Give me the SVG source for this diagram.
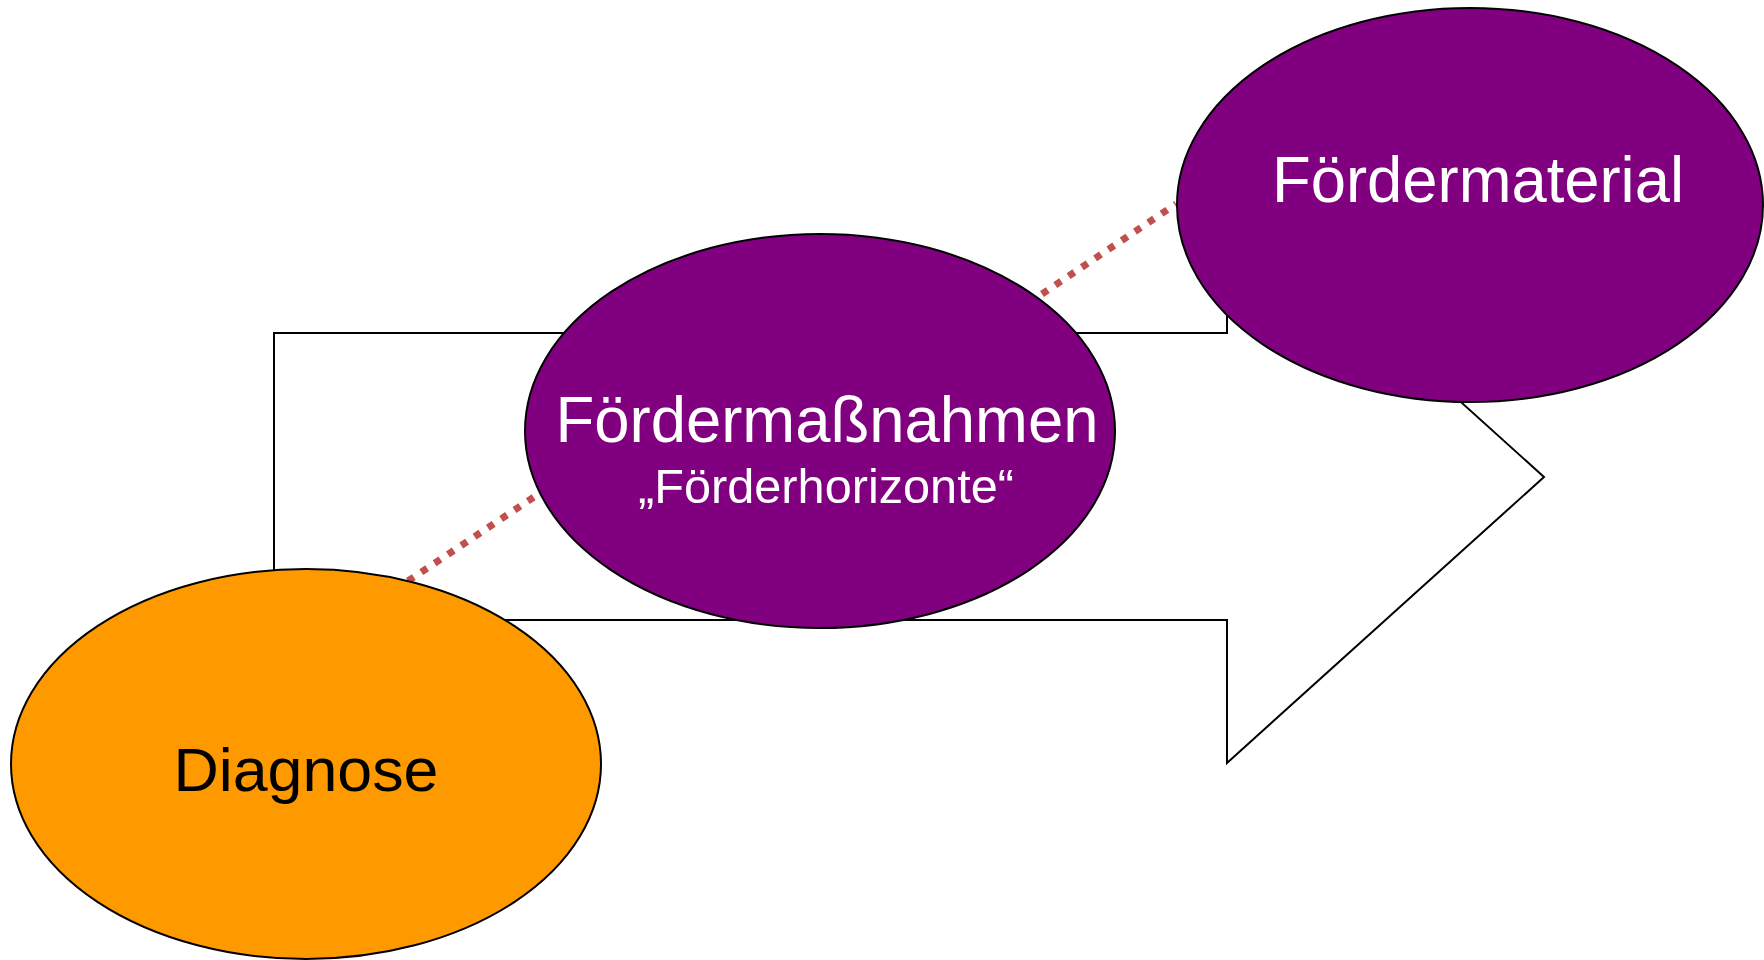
<svg xmlns="http://www.w3.org/2000/svg" width="1764" height="960" viewBox="0 0 1764 960">
  <style>
    .node { stroke: #000; stroke-width: 2; }
    .purple { fill: #800080; }
    .orange { fill: #FF9900; }
    .lbl { font-family: "Liberation Sans", Arial, sans-serif; }
    .white { fill: #fff; }
    .dots { stroke: #C0504D; stroke-width: 7; stroke-dasharray: 7 9; fill: none; }
  </style>
  <rect width="1764" height="960" fill="#fff"/>
  <g id="arrow">
    <polygon points="274,333 1227,333 1227,191 1544,477 1227,763 1227,620 274,620" fill="#fff" stroke="#000" stroke-width="2"/>
  </g>
  <g id="connectors">
    <line class="dots" x1="408" y1="581" x2="540" y2="493"/>
    <line class="dots" x1="1042" y1="294" x2="1176" y2="204"/>
  </g>
  <g id="diagnose">
    <ellipse class="node orange" cx="306" cy="764" rx="295" ry="195"/>
    <text class="lbl" x="306" y="791" font-size="62" text-anchor="middle" textLength="265" lengthAdjust="spacingAndGlyphs" fill="#000">Diagnose</text>
  </g>
  <g id="foerdermassnahmen">
    <ellipse class="node purple" cx="820" cy="431" rx="295" ry="197"/>
    <text class="lbl white" x="827" y="442" font-size="64" text-anchor="middle" textLength="543" lengthAdjust="spacingAndGlyphs">Fördermaßnahmen</text>
    <text class="lbl white" x="826" y="503" font-size="48" text-anchor="middle" textLength="376" lengthAdjust="spacingAndGlyphs">„Förderhorizonte“</text>
  </g>
  <g id="foerdermaterial">
    <ellipse class="node purple" cx="1470" cy="205" rx="293" ry="197"/>
    <text class="lbl white" x="1478" y="202" font-size="64" text-anchor="middle" textLength="412" lengthAdjust="spacingAndGlyphs">Fördermaterial</text>
  </g>
</svg>
